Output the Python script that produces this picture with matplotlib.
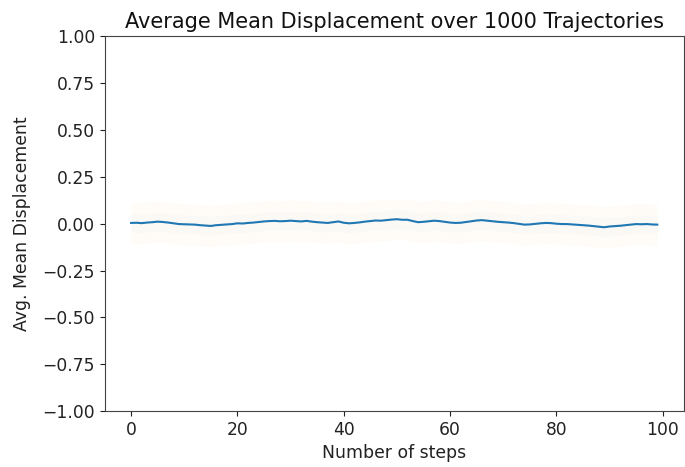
import matplotlib.pyplot as plt
import numpy as np

# promedio del desplazamiento en cada paso
mean_disp = [0.004, 0.005, 0.003, 0.006, 0.008, 0.011, 0.009, 0.006, 0.002, -0.002,
             -0.003, -0.004, -0.005, -0.008, -0.010, -0.012, -0.008, -0.006, -0.004, -0.002,
             0.002, 0.001, 0.004, 0.006, 0.009, 0.012, 0.014, 0.015, 0.013, 0.014,
             0.016, 0.014, 0.012, 0.015, 0.011, 0.008, 0.006, 0.004, 0.008, 0.012,
             0.005, 0.002, 0.004, 0.007, 0.011, 0.014, 0.017, 0.016, 0.019, 0.022,
             0.024, 0.021, 0.021, 0.014, 0.008, 0.010, 0.013, 0.016, 0.014, 0.010,
             0.006, 0.004, 0.005, 0.009, 0.013, 0.017, 0.019, 0.016, 0.013, 0.010,
             0.008, 0.006, 0.003, -0.001, -0.005, -0.004, -0.001, 0.002, 0.004, 0.003,
             0.000, -0.002, -0.002, -0.004, -0.006, -0.008, -0.010, -0.013, -0.016, -0.019,
             -0.015, -0.013, -0.011, -0.008, -0.005, -0.002, -0.003, -0.002, -0.004, -0.005]
steps = np.arange(len(mean_disp))
mean_disp = np.array(mean_disp)

# banda muy tenue alrededor de la media
spread_outer = 0.11
spread_inner = 0.05

fig = plt.figure(figsize=(6.85, 4.67), dpi=100)
ax = fig.add_axes([0.153, 0.12, 0.845, 0.802])

ax.fill_between(steps, mean_disp - spread_outer, mean_disp + spread_outer,
                color='#ffd27a', alpha=0.05, linewidth=0)
ax.fill_between(steps, mean_disp - spread_inner, mean_disp + spread_inner,
                color='#9ecae1', alpha=0.05, linewidth=0)
ax.plot(steps, mean_disp, color='#1f77b4', linewidth=1.5)

ax.set_ylim(-1, 1)
ax.set_yticks(np.arange(-1, 1.01, 0.25))
ax.set_xticks([0, 20, 40, 60, 80, 100])
ax.tick_params(labelsize=12.3, colors='#222222')
for s in ax.spines.values():
    s.set_color('#444444')
ax.set_title('Average Mean Displacement over 1000 Trajectories', fontsize=15, color='#111111')
ax.set_xlabel('Number of steps', fontsize=12.4, color='#222222')
ax.set_ylabel('Avg. Mean Displacement', fontsize=12.4, color='#222222', labelpad=8)

plt.savefig('out.png', dpi=100)
